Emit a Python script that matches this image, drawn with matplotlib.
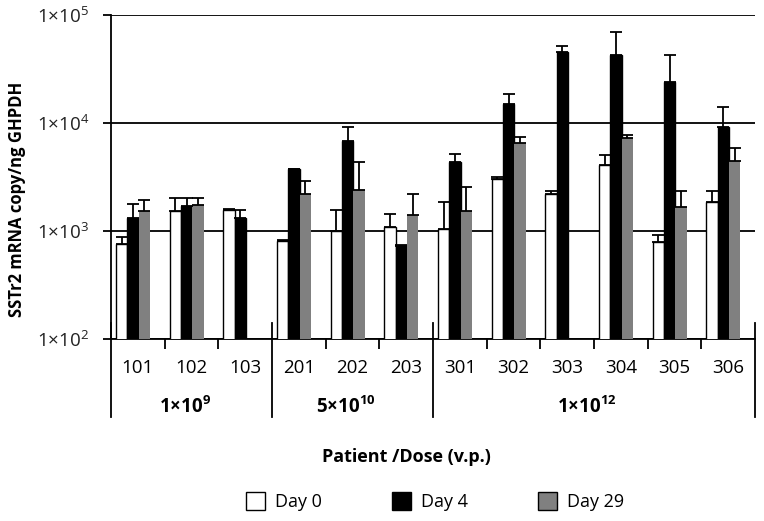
import numpy as np
import matplotlib
matplotlib.use('Agg')
import matplotlib.pyplot as plt
from matplotlib.patches import Patch
import matplotlib.transforms as mtransforms

plt.rcParams['font.family'] = ['Open Sans', 'DejaVu Sans']
plt.rcParams['mathtext.default'] = 'regular'

patients = ['101', '102', '103', '201', '202', '203',
            '301', '302', '303', '304', '305', '306']
doses = ['1×10$^{9}$', '5×10$^{10}$', '1×10$^{12}$']
dose_groups = [(0, 2), (3, 5), (6, 11)]

# mean values (copies/ng) and upper error
day0 = [753, 1531, 1563, 813, 1000, 1089, 1045, 3027, 2188, 4084, 785, 1866]
day0_err = [127, 478, 27, 17, 575, 355, 813, 133, 173, 938, 133, 495]
day4 = [1327, 1703, 1327, 3724, 6855, 727, 4385, 15000, 45700, 42340, 23800, 9186]
day4_err = [451, 306, 236, 26, 2390, 23, 815, 3580, 6260, 27360, 18860, 4774]
day29 = [1542, 1729, np.nan, 2213, 2399, 1406, 1542, 6490, np.nan, 7310, 1668, 4480]
day29_err = [381, 280, np.nan, 711, 1986, 797, 1028, 980, np.nan, 490, 693, 1350]

fig = plt.figure(figsize=(7.64, 5.21), dpi=100)
ax = fig.add_axes([0.1453, 0.3493, 0.8429, 0.6219])
ax.set_yscale('log')

x = np.arange(len(patients))
w = 0.21
shift = -0.09
series = [(day0, day0_err, 'white', 'black'),
          (day4, day4_err, 'black', 'black'),
          (day29, day29_err, '#808080', 'none')]
for k, (vals, errs, fc, ec) in enumerate(series):
    pos = x + shift + (k - 1) * w
    vals = np.array(vals, dtype=float)
    errs = np.array(errs, dtype=float)
    ax.bar(pos, vals, width=w, color=fc, edgecolor=ec, linewidth=1.0, zorder=3)
    ok = ~np.isnan(vals)
    ax.errorbar(pos[ok], vals[ok], yerr=[np.zeros(ok.sum()), errs[ok]],
                fmt='none', ecolor='black', elinewidth=1.3, capsize=4.3,
                capthick=1.3, zorder=4)

ax.set_ylim(100, 1e5)
ax.set_xlim(-0.5, 11.5)
ax.set_yticks([1e2, 1e3, 1e4, 1e5])
ax.set_yticklabels(['1×10$^{2}$', '1×10$^{3}$', '1×10$^{4}$', '1×10$^{5}$'],
                   fontsize=13.5, color='#222222')
ax.yaxis.set_minor_locator(matplotlib.ticker.NullLocator())
ax.tick_params(axis='y', length=6, width=1.3, pad=10)
ax.grid(axis='y', color='black', linewidth=1.3, zorder=1)
ax.set_axisbelow(True)
for s in ['top', 'right']:
    ax.spines[s].set_visible(False)
ax.spines['left'].set_linewidth(1.3)
ax.spines['bottom'].set_linewidth(1.3)

# x ticks at patient boundaries
ax.set_xticks([i + 0.5 for i in range(11) if i not in (2, 5)])
ax.set_xticklabels([])
ax.tick_params(axis='x', length=7, width=1.3)

trans = mtransforms.blended_transform_factory(ax.transData, ax.transAxes)
for i, p in enumerate(patients):
    ax.text(i, -0.09, p, transform=trans, ha='center', va='center', fontsize=13.5)
for b in [-0.5, 2.5, 5.5, 11.5]:
    ax.plot([b, b], [0.05, -0.241], transform=trans, color='black',
            linewidth=1.3, clip_on=False)
for (a, b), d in zip(dose_groups, doses):
    ax.text((a + b) / 2 - 0.13, -0.21, d, transform=trans, ha='center',
            va='center', fontsize=13.5, fontweight='bold')

fig.text(17 / 764, 0.618, 'SSTr2 mRNA copy/ng GHPDH', rotation=90,
         ha='center', va='center', fontsize=12, fontweight='bold')
fig.text(406 / 764, 0.1228, 'Patient /Dose (v.p.)', ha='center',
         va='center', fontsize=13, fontweight='bold')

handles = [Patch(facecolor='white', edgecolor='black', label='Day 0'),
           Patch(facecolor='black', edgecolor='black', label='Day 4'),
           Patch(facecolor='#808080', edgecolor='black', label='Day 29')]
fig.legend(handles=handles, loc='center', bbox_to_anchor=(435 / 764, 0.038),
           ncol=3, frameon=False, fontsize=13, handlelength=1.05,
           handleheight=1.2, handletextpad=0.55, columnspacing=3.9)

fig.savefig('out.png', dpi=100)
